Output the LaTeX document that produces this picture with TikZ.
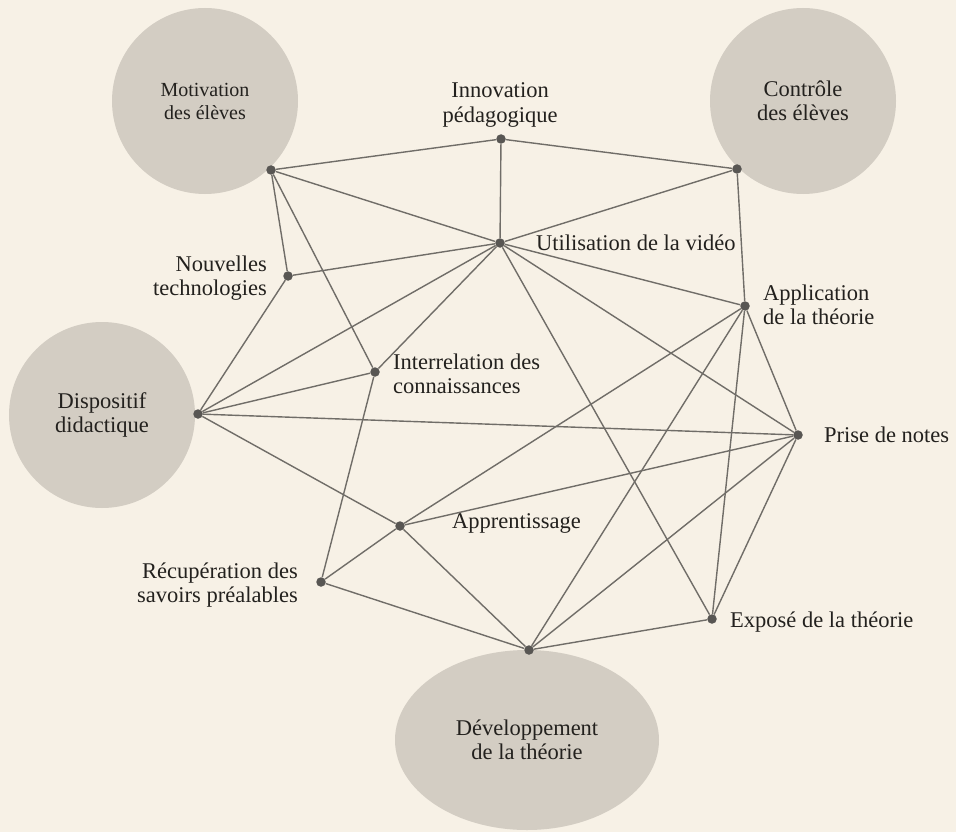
\documentclass[tikz,border=0pt]{standalone}
\usepackage{fontspec}
\setmainfont{Liberation Serif}
\usetikzlibrary{shapes.geometric}
\definecolor{bgc}{RGB}{247,241,230}
\definecolor{circ}{RGB}{211,205,195}
\definecolor{edgec}{RGB}{112,109,104}
\definecolor{dotc}{RGB}{88,86,83}
\definecolor{txt}{RGB}{35,33,30}
\newcommand\lblf{\fontsize{22.5}{24.5}\selectfont}
\newcommand\smallf{\fontsize{20}{23}\selectfont}
\begin{document}
\begin{tikzpicture}[x=1pt,y=-1pt,
  bigc/.style={circle, fill=circ, minimum size=186pt, inner sep=0pt, align=center, font=\lblf, text=txt},
  bige/.style={ellipse, fill=circ, minimum width=264pt, minimum height=180pt, inner sep=0pt, align=center, font=\lblf, text=txt},
  dotn/.style={circle, fill=dotc, minimum size=9.5pt, inner sep=0pt},
  lbl/.style={font=\lblf, text=txt, inner sep=0pt},
  link/.style={draw=edgec, line width=1.4pt}]
\fill[bgc] (0,0) rectangle (956,832);
\useasboundingbox (0,0) rectangle (956,832);
% big shapes
\node[bigc, font=\smallf] (motc) at (205,101) {Motivation\\des élèves};
\node[bigc] (conc) at (803,101) {Contrôle\\des élèves};
\node[bigc] (disc) at (102,415) {Dispositif\\didactique};
\node[bige] (devc) at (527,740) {Développement\\de la théorie};
% dots
\node[dotn] (M) at (271,170) {};
\node[dotn] (I) at (501,139) {};
\node[dotn] (C) at (737,169) {};
\node[dotn] (U) at (500,243) {};
\node[dotn] (N) at (288,276) {};
\node[dotn] (A) at (745,306) {};
\node[dotn] (R) at (375,372) {};
\node[dotn] (D) at (198,414) {};
\node[dotn] (P) at (798,435) {};
\node[dotn] (L) at (400,526) {};
\node[dotn] (S) at (321,582) {};
\node[dotn] (E) at (712,619) {};
\node[dotn] (V) at (529,650) {};
% labels
\node[lbl, align=center] (tI) at (500,105) {Innovation\\pédagogique};
\node[lbl, anchor=base west] (tU) at (536,250) {Utilisation de la vidéo};
\node[lbl, align=right, anchor=east] (tN) at (267,278) {Nouvelles\\technologies};
\node[lbl, align=left, anchor=west] (tA) at (763,305) {Application\\de la théorie};
\node[lbl, align=left, anchor=west] (tR) at (393,374) {Interrelation des\\connaissances};
\node[lbl, anchor=base west] (tP) at (824,442) {Prise de notes};
\node[lbl, anchor=base west] (tL) at (452,528) {Apprentissage};
\node[lbl, align=right, anchor=east] (tS) at (298,585) {Récupération des\\savoirs préalables};
\node[lbl, anchor=base west] (tE) at (730,627) {Exposé de la théorie};
% connectors
\begin{scope}[link]
\draw (M) -- (I); \draw (M) -- (U); \draw (M) -- (N); \draw (M) -- (R);
\draw (I) -- (C); \draw (I) -- (U);
\draw (C) -- (U); \draw (C) -- (A);
\draw (U) -- (N); \draw (U) -- (A); \draw (U) -- (P); \draw (U) -- (E); \draw (U) -- (D); \draw (U) -- (R);
\draw (N) -- (D);
\draw (R) -- (D); \draw (R) -- (S);
\draw (D) -- (P); \draw (D) -- (L);
\draw (L) -- (A); \draw (L) -- (P); \draw (L) -- (S); \draw (L) -- (V);
\draw (S) -- (V);
\draw (A) -- (V); \draw (A) -- (E); \draw (A) -- (P);
\draw (P) -- (V); \draw (P) -- (E);
\draw (E) -- (V);
\end{scope}
\end{tikzpicture}
\end{document}
